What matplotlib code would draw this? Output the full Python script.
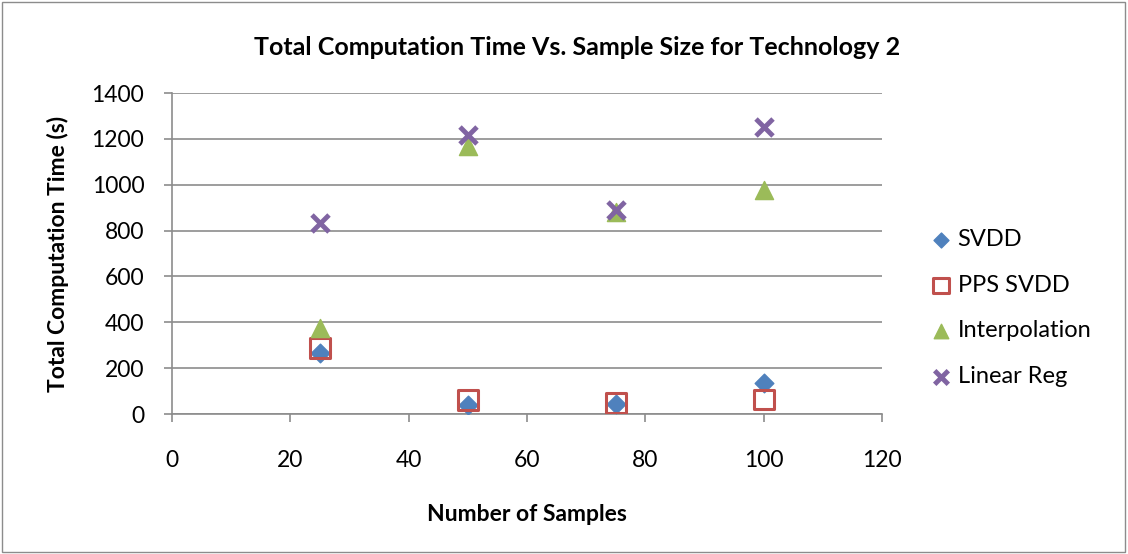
import numpy as np
import matplotlib.pyplot as plt
from matplotlib.patches import Rectangle

plt.rcParams['font.family'] = ['Lato', 'DejaVu Sans']

samples = [25, 50, 75, 100]
svdd = [266, 40, 45, 135]
pps_svdd = [288, 61, 48, 63]
interpolation = [375, 1170, 880, 977]
linear_reg = [833, 1217, 890, 1252]

fig = plt.figure(figsize=(11.28, 5.54), dpi=100)
ax = fig.add_axes([0.1525, 0.2527, 0.782 - 0.1525, 0.832 - 0.2527])

ax.scatter(samples, svdd, marker='D', s=90, color='#4F81BD', label='SVDD', zorder=3)
ax.scatter(samples, pps_svdd, marker='s', s=200, facecolor='none', edgecolor='#C0504D',
           linewidth=2.2, label='PPS SVDD', zorder=3)
ax.scatter(samples, interpolation, marker='^', s=170, color='#9BBB59', label='Interpolation', zorder=3)
ax.scatter(samples, linear_reg, marker='x', s=150, color='#8064A2', linewidth=3.5,
           label='Linear Reg', zorder=4)

ax.set_xlim(0, 120)
ax.set_ylim(0, 1400)
ax.set_xticks(np.arange(0, 121, 20))
ax.set_yticks(np.arange(0, 1401, 200))
ax.grid(axis='y', color='#8c8c8c', linewidth=1.2)
ax.set_axisbelow(True)
for s in ['top', 'right']:
    ax.spines[s].set_visible(False)
for s in ['left', 'bottom']:
    ax.spines[s].set_color('#8c8c8c')
    ax.spines[s].set_linewidth(1.2)
ax.tick_params(axis='both', colors='#8c8c8c', length=6, width=1.2, labelsize=16.5,
               labelcolor='black')
ax.tick_params(axis='x', pad=20)
ax.tick_params(axis='y', pad=14)

ax.set_xlabel('Number of Samples', fontsize=16.5, fontweight='bold', labelpad=24)
ax.set_ylabel('Total Computation Time (s)', fontsize=16.5, fontweight='bold', labelpad=16)
fig.text(0.512, 0.915, 'Total Computation Time Vs. Sample Size for Technology 2',
         ha='center', va='center', fontsize=18, fontweight='bold')

ax.legend(loc='center left', bbox_to_anchor=(1.03, 0.33), frameon=False, fontsize=17,
          handletextpad=0.0, labelspacing=1.05, markerscale=0.8, handlelength=1.4)

fig.add_artist(Rectangle((0.002, 0.004), 0.995, 0.992, transform=fig.transFigure,
                         fill=False, edgecolor='#8c8c8c', linewidth=1))

fig.savefig('out.png', dpi=100)
